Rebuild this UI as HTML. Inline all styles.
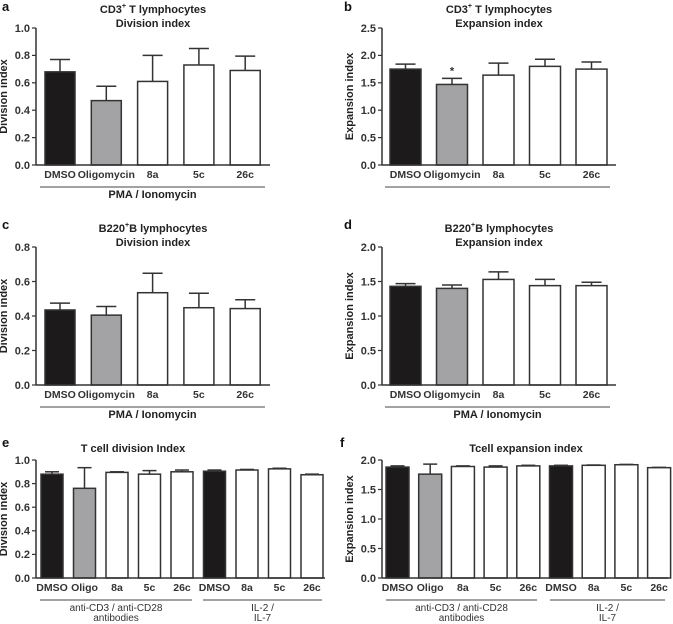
<!DOCTYPE html>
<html><head><meta charset="utf-8">
<style>
html,body{margin:0;padding:0;background:#fff;}
svg{display:block;font-family:"Liberation Sans",Arial,sans-serif;}
.t{font-weight:bold;font-size:11px;fill:#222;}
.tk{font-weight:bold;font-size:11px;fill:#333;}
.ck{font-weight:bold;font-size:10.5px;fill:#333;}
.g{font-size:10px;fill:#333;}
.L{font-weight:bold;font-size:13px;fill:#111;}
</style></head>
<body>
<svg id="fig" width="673" height="624" viewBox="0 0 673 624" xmlns="http://www.w3.org/2000/svg"></svg>
<script>
// ---- data ----
const catsPMA = ["DMSO","Oligomycin","8a","5c","26c"];
const catsTcell = ["DMSO","Oligo","8a","5c","26c","DMSO","8a","5c","26c"];
const colorsPMA = ["k","g","w","w","w"];
const colorsTcell = ["k","g","w","w","w","k","w","w","w"];
const aValues = [0.68,0.47,0.61,0.73,0.69];
const aErrors = [0.77,0.575,0.80,0.85,0.795];
const aTicks = ["0.0","0.2","0.4","0.6","0.8","1.0"];
const bValues = [1.75,1.47,1.64,1.80,1.75];
const bErrors = [1.84,1.58,1.86,1.93,1.88];
const bTicks = ["0.0","0.5","1.0","1.5","2.0","2.5"];
const cValues = [0.435,0.405,0.535,0.448,0.443];
const cErrors = [0.475,0.455,0.648,0.532,0.494];
const cTicks = ["0.0","0.2","0.4","0.6","0.8"];
const dValues = [1.43,1.40,1.53,1.44,1.44];
const dErrors = [1.47,1.45,1.64,1.53,1.49];
const dTicks = ["0.0","0.5","1.0","1.5","2.0"];
const eValues = [0.88,0.76,0.895,0.88,0.90,0.905,0.915,0.925,0.875];
const eErrors = [0.90,0.935,0.90,0.91,0.915,0.915,0.92,0.93,0.88];
const eTicks = ["0.0","0.2","0.4","0.6","0.8","1.0"];
const fValues = [1.88,1.76,1.89,1.88,1.90,1.90,1.91,1.92,1.87];
const fErrors = [1.90,1.93,1.90,1.90,1.91,1.91,1.915,1.925,1.875];
const fTicks = ["0.0","0.5","1.0","1.5","2.0"];

const NS="http://www.w3.org/2000/svg";
const svg=document.getElementById('fig');
function mk(tag,attrs,parent,text){
  const e=document.createElementNS(NS,tag);
  for(const k in attrs)e.setAttribute(k,attrs[k]);
  if(text!==undefined)e.textContent=text;
  (parent||svg).appendChild(e);return e;
}
const FILL={k:"#1c1a1b",g:"#a3a3a6",w:"#ffffff"};

function panel(o){
  const g=mk('g',{});
  
  
  const tmax=parseFloat(o.ticks[o.ticks.length-1]);
  const y=v=>o.y0-(v/tmax)*(o.y0-o.yTop);
  const x=i=>o.bx0+i*o.step;
  const L=mk('text',{x:o.lx,y:o.ly,class:'L'},g,o.letter);
  
  
  o.titles.forEach((t,i)=>{
    const te=mk('text',{x:o.tcx,y:o.ty+i*14,class:'t','text-anchor':'middle','font-size':i==0&&o.titles.length>1?'12.5px':'11px'},g);
    te.innerHTML=t;
    
    
  });
  const yt=mk('text',{x:0,y:0,class:'t','text-anchor':'middle',transform:`translate(${o.ax-29},${(o.y0+o.yTop)/2}) rotate(-90)`},g,o.ytitle);
  
  
  o.ticks.forEach(t=>{
    const v=parseFloat(t),yy=y(v);
    mk('line',{x1:o.ax-4,x2:o.ax,y1:yy,y2:yy,stroke:'#333','stroke-width':1.2},g);
    const tl=mk('text',{x:o.ax-6,y:yy+3.8,class:'tk','text-anchor':'end'},g,t);
    
    
  });
  o.values.forEach((v,i)=>{
    const bx=x(i),cx=bx+o.bw/2;
    const er=o.errors[i];
    const el=mk('line',{x1:cx,x2:cx,y1:y(v),y2:y(er),stroke:'#333','stroke-width':1.5},g);
    
    
    mk('line',{x1:cx-o.cap,x2:cx+o.cap,y1:y(er),y2:y(er),stroke:'#333','stroke-width':1.5},g);
    const r=mk('rect',{x:bx,y:y(v),width:o.bw,height:o.y0-y(v),fill:FILL[o.colors[i]],stroke:'#333','stroke-width':1.5},g);
    
    
    const cl=mk('text',{x:cx,y:o.y0+13,class:'ck','text-anchor':'middle'},g,o.cats[i]);
    
    
  });
  if(o.star!==undefined){
    const i=o.star;
    const s=mk('text',{x:x(i)+o.bw/2,y:y(o.errors[i])-4,class:'tk','text-anchor':'middle'},g,'*');
    
    
  }
  mk('line',{x1:o.ax,x2:o.ax,y1:o.yTop,y2:o.y0,stroke:'#333','stroke-width':1.5},g);
  mk('line',{x1:o.ax,x2:o.axEnd,y1:o.y0,y2:o.y0,stroke:'#333','stroke-width':1.5},g);
  o.groups.forEach(gr=>{
    mk('line',{x1:gr.x1,x2:gr.x2,y1:o.y0+22,y2:o.y0+22,stroke:'#444','stroke-width':1},g);
    gr.label.forEach((lab,j)=>{
      const gl=mk('text',{x:(gr.x1+gr.x2)/2,y:o.y0+33+j*10,class:gr.bold?'t':'g','text-anchor':'middle'},g,lab);
      
      
    });
  });
}
const pma=(x1,x2)=>[{x1,x2,label:["PMA / Ionomycin"],bold:true}];
const pmaNo=(x1,x2)=>[{x1,x2,label:[],bold:true}];

panel({name:'panel-a',letter:'a',lx:2,ly:11,titles:['CD3<tspan font-size="7" dy="-5">+</tspan><tspan dy="5"> T lymphocytes</tspan>','Division index'],tcx:153,ty:13,
 ytitle:'Division index',ticks:aTicks,values:aValues,errors:aErrors,cats:catsPMA,colors:colorsPMA,
 ax:36,axEnd:270,y0:165,yTop:28,bx0:45,step:46.3,bw:30,cap:10,groups:pma(40,265)});
panel({name:'panel-b',letter:'b',lx:344,ly:11,titles:['CD3<tspan font-size="7" dy="-5">+</tspan><tspan dy="5"> T lymphocytes</tspan>','Expansion index'],tcx:499,ty:13,
 ytitle:'Expansion index',ticks:bTicks,values:bValues,errors:bErrors,cats:catsPMA,colors:colorsPMA,
 ax:382,axEnd:616,y0:165,yTop:28,bx0:390,step:46.5,bw:31,cap:10,star:1,groups:pmaNo(385,610)});
panel({name:'panel-c',letter:'c',lx:2,ly:229,titles:['B220<tspan font-size="7" dy="-5">+</tspan><tspan dy="5">B lymphocytes</tspan>','Division index'],tcx:153,ty:232,
 ytitle:'Division index',ticks:cTicks,values:cValues,errors:cErrors,cats:catsPMA,colors:colorsPMA,
 ax:36,axEnd:270,y0:385,yTop:247,bx0:45,step:46.3,bw:30,cap:10,groups:pma(40,265)});
panel({name:'panel-d',letter:'d',lx:344,ly:229,titles:['B220<tspan font-size="7" dy="-5">+</tspan><tspan dy="5">B lymphocytes</tspan>','Expansion index'],tcx:499,ty:232,
 ytitle:'Expansion index',ticks:dTicks,values:dValues,errors:dErrors,cats:catsPMA,colors:colorsPMA,
 ax:382,axEnd:616,y0:385,yTop:247,bx0:390,step:46.5,bw:31,cap:10,groups:pma(385,610)});
panel({name:'panel-e',letter:'e',lx:2,ly:447,titles:['T cell division Index'],tcx:133,ty:452,
 ytitle:'Division index',ticks:eTicks,values:eValues,errors:eErrors,cats:catsTcell,colors:colorsTcell,
 ax:36,axEnd:325,y0:578,yTop:460,bx0:41,step:32.5,bw:22,cap:7,
 groups:[{x1:40,x2:192,label:["anti-CD3 / anti-CD28","antibodies"]},{x1:203,x2:322,label:["IL-2 /","IL-7"]}]});
panel({name:'panel-f',letter:'f',lx:340,ly:447,titles:['Tcell expansion index'],tcx:526,ty:452,
 ytitle:'Expansion index',ticks:fTicks,values:fValues,errors:fErrors,cats:catsTcell,colors:colorsTcell,
 ax:382,axEnd:668,y0:578,yTop:460,bx0:386,step:32.7,bw:23,cap:7,
 groups:[{x1:386,x2:537,label:["anti-CD3 / anti-CD28","antibodies"]},{x1:550,x2:665,label:["IL-2 /","IL-7"]}]});
</script>
</body></html>
